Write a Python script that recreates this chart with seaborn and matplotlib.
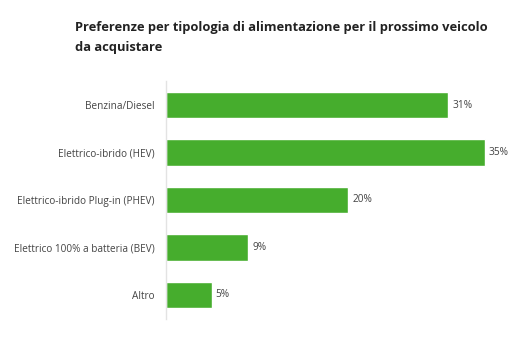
import matplotlib
matplotlib.use("Agg")
import matplotlib.pyplot as plt
import seaborn as sns
import pandas as pd

categories = ["Benzina/Diesel", "Elettrico-ibrido (HEV)", "Elettrico-ibrido Plug-in (PHEV)",
              "Elettrico 100% a batteria (BEV)", "Altro"]
values = [31, 35, 20, 9, 5]
value_labels = ["31%", "35%", "20%", "9%", "5%"]
title = "Preferenze per tipologia di alimentazione per il prossimo veicolo\nda acquistare"

sns.set_theme(style="white")
plt.rcParams['font.family'] = ['Open Sans', 'DejaVu Sans']

df = pd.DataFrame({"cat": categories, "val": values})

W, H = 525, 337
fig = plt.figure(figsize=(W / 100, H / 100), dpi=100)
left, right, top, bottom = 166, 512, 81.5, 318.5
ax = fig.add_axes([left / W, 1 - bottom / H, (right - left) / W, (bottom - top) / H])

sns.barplot(data=df, x="val", y="cat", color="#46ad2d", width=0.56,
            saturation=1, ax=ax, orient="h")

ax.set_xlim(0, 38)
ax.set_ylim(4.5, -0.5)
ax.set_xlabel("")
ax.set_ylabel("")
ax.set_xticks([])
for s in ["top", "right", "bottom"]:
    ax.spines[s].set_visible(False)
ax.spines["left"].set_color("#e3e3e3")
ax.spines["left"].set_linewidth(1)
ax.tick_params(axis="y", length=0, pad=8, labelsize=7.2, labelcolor="#444444")

for i, (v, lab) in enumerate(zip(values, value_labels)):
    ax.text(v + 0.45, i, lab, va="center", ha="left", fontsize=7.3, color="#444444")

fig.text(75 / W, 1 - 21.5 / H, title, ha="left", va="top", fontsize=9.25,
         fontweight="bold", color="#222222", linespacing=1.7)

fig.savefig("out.png", dpi=100)
